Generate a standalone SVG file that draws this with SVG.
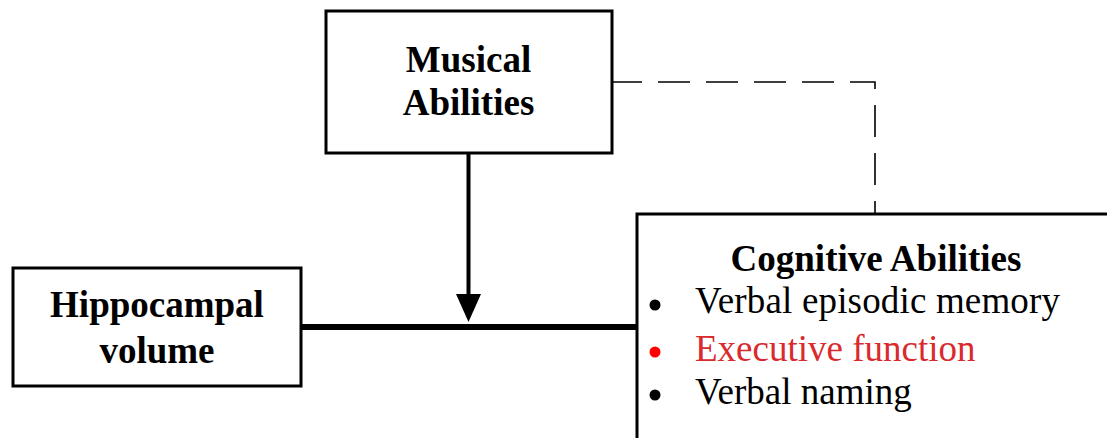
<svg xmlns="http://www.w3.org/2000/svg" width="1107" height="438" viewBox="0 0 1107 438">
<style>
.box{fill:#fff;stroke:#000;stroke-width:3}
.t{font-family:"Liberation Serif","Times New Roman",serif;font-size:37px;fill:#000}
.b{font-weight:bold;text-anchor:middle}
.red{fill:#d92a2e}
</style>
<rect width="1107" height="438" fill="#fff"/>
<g id="connectors">
<path d="M613,82 H875 V213" fill="none" stroke="#000" stroke-width="1.6" stroke-dasharray="32 16" stroke-dashoffset="3"/>
<line x1="301" y1="327" x2="637" y2="327" stroke="#000" stroke-width="6"/>
<line x1="468.5" y1="153" x2="468.5" y2="296" stroke="#000" stroke-width="4"/>
<polygon points="456,294 481,294 468.5,322" fill="#000"/>
</g>
<g id="musical">
<rect class="box" x="326" y="11" width="286" height="142"/>
<text class="t b" x="468.5" y="72">Musical</text>
<text class="t b" x="468.5" y="115">Abilities</text>
</g>
<g id="hippocampal">
<rect class="box" x="13" y="268" width="288" height="118"/>
<text class="t b" x="157" y="317">Hippocampal</text>
<text class="t b" x="157" y="363">volume</text>
</g>
<g id="cognitive">
<rect class="box" x="637" y="214" width="520" height="300"/>
<text class="t b" x="876" y="271">Cognitive Abilities</text>
<circle cx="655" cy="305" r="5.5" fill="#000"/>
<text class="t" x="695" y="313" textLength="365">Verbal episodic memory</text>
<circle cx="655" cy="352" r="5.5" fill="#ff0000"/>
<text class="t red" x="695" y="361">Executive function</text>
<circle cx="655" cy="395" r="5.5" fill="#000"/>
<text class="t" x="695" y="404">Verbal naming</text>
</g>
</svg>
